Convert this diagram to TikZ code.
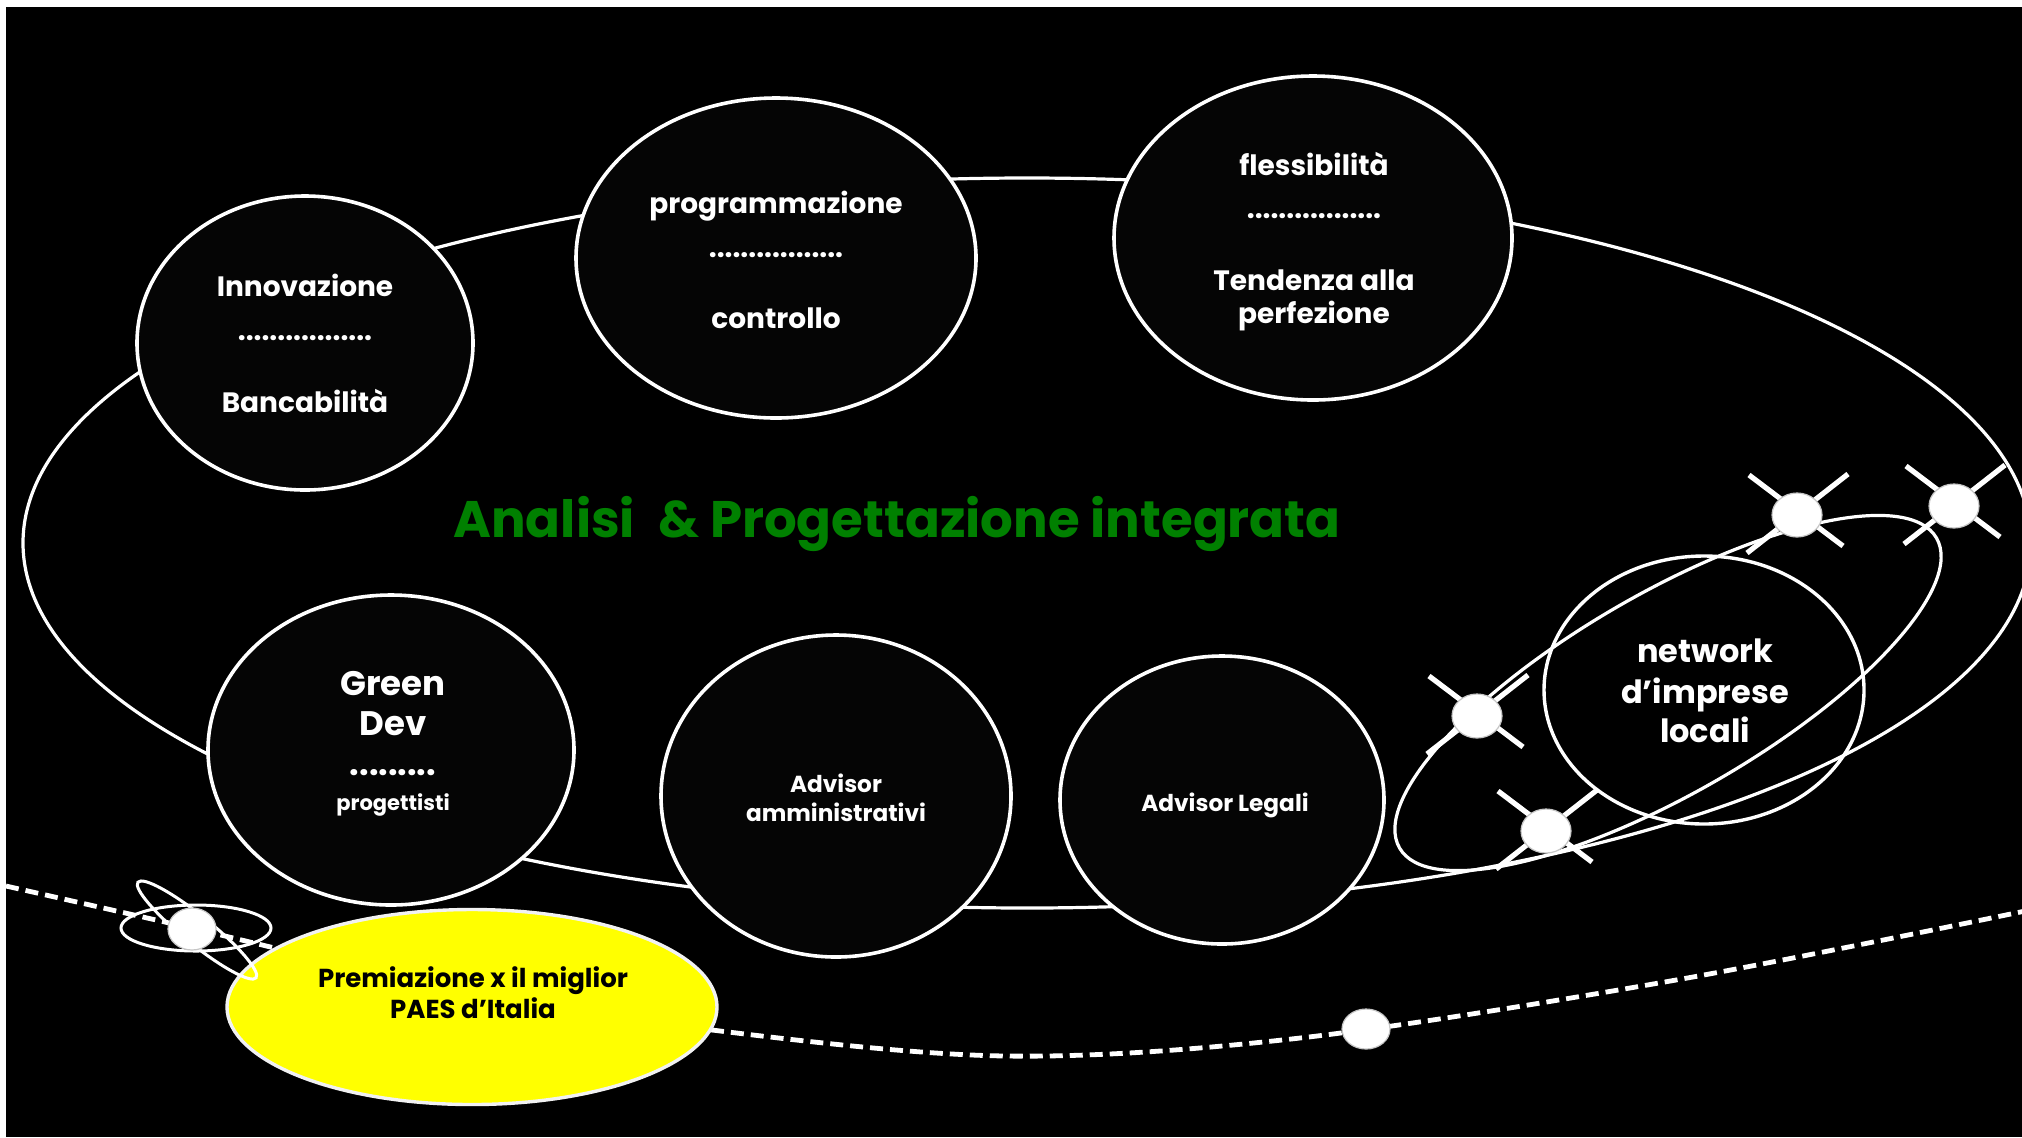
\documentclass[tikz,border=0pt]{standalone}
\usepackage{fontspec}
\setmainfont{Poppins}
\usetikzlibrary{shapes.geometric}
\definecolor{ygold}{HTML}{FFFF00}
\definecolor{tgreen}{HTML}{008000}
\definecolor{bubfill}{HTML}{050505}
\begin{document}
\begin{tikzpicture}[x=0.5pt,y=-0.5pt,
  orbit/.style={draw=white, line width=1.6pt},
  dashorbit/.style={draw=white, line width=2.4pt, dash pattern=on 6.5pt off 3.5pt},
  bubble/.style={ellipse, draw=white, line width=1.8pt, fill=bubfill, inner sep=0pt},
  ring/.style={ellipse, draw=white, line width=1.7pt, inner sep=0pt},
  sat/.style={ellipse, fill=white, draw=gray!45, line width=0.6pt, minimum width=25pt, minimum height=22pt, inner sep=0pt},
  crossarm/.style={draw=white, line width=2.6pt},
  wl/.style={text=white, anchor=base, inner sep=0pt, font=\bfseries\fontsize{14}{16}\selectfont},
  wbig/.style={wl, font=\bfseries\fontsize{17}{19}\selectfont},
  wsmall/.style={wl, font=\bfseries\fontsize{10.5}{12}\selectfont},
  wadv/.style={wl, font=\bfseries\fontsize{11.6}{14}\selectfont},
  wnet/.style={wl, font=\bfseries\fontsize{16}{18}\selectfont},
  ytxt/.style={text=black, anchor=base, inner sep=0pt, font=\bfseries\fontsize{13}{15}\selectfont},
  title/.style={text=tgreen, anchor=base, inner sep=0pt, font=\bfseries\fontsize{25.7}{30}\selectfont}
]
\useasboundingbox (0,0) rectangle (2022,1137);
\fill[white] (0,0) rectangle (2022,1137);
\fill[black] (6,7) rectangle (2022,1137);
\begin{scope}
\clip (6,7) rectangle (2022,1137);

% big orbit
\coordinate (oc) at (1027,543);
\draw[orbit] (oc) ellipse [x radius=1004, y radius=365];

% dashed orbit
\coordinate (d1) at (6,886);
\coordinate (d2) at (191,928);
\coordinate (d3) at (450,988);
\coordinate (d4) at (712,1030);
\coordinate (d5) at (1006,1056);
\coordinate (d6) at (1300,1038);
\coordinate (d7) at (1676,980);
\coordinate (d8) at (2030,910);
\draw[dashorbit] plot[smooth, tension=0.55] coordinates {(d1) (d2) (d3) (d4) (d5) (d6) (d7) (d8)};

% bubbles
\node[bubble, minimum width=168pt, minimum height=147pt] (inn) at (305,343) {};
\node[bubble, minimum width=200pt, minimum height=160pt] (prog) at (776,258) {};
\node[bubble, minimum width=199pt, minimum height=162pt] (fles) at (1313,238) {};
\node[bubble, minimum width=183pt, minimum height=155pt] (green) at (391,750) {};
\node[bubble, minimum width=175pt, minimum height=161pt] (advam) at (836,796) {};
\node[bubble, minimum width=162pt, minimum height=144pt] (advleg) at (1222,800) {};

% texts in bubbles
\node[wl] (inn1) at (305,296) {Innovazione};
\node[wl] (inn2) at (305,340) {.................};
\node[wl] (inn3) at (305,412) {Bancabilità};
\node[wl] (prog1) at (776,213) {programmazione};
\node[wl] (prog2) at (776,257) {.................};
\node[wl] (prog3) at (776,328) {controllo};
\node[wl] (fles1) at (1314,175) {flessibilità};
\node[wl] (fles2) at (1314,218) {.................};
\node[wl] (fles3) at (1314,290) {Tendenza alla};
\node[wl] (fles4) at (1314,323) {perfezione};
\node[wbig] (gr1) at (393,695) {Green};
\node[wbig] (gr2) at (393,735) {Dev};
\node[wbig] (gr3) at (393,775) {.........};
\node[wsmall] (gr4) at (393,810) {progettisti};
\node[wadv] (am1) at (836,792) {Advisor};
\node[wadv] (am2) at (836,821) {amministrativi};
\node[wadv] (lg1) at (1225,811) {Advisor Legali};

% network system
\node[ring, minimum width=160pt, minimum height=134pt] (net) at (1704,690) {};
\coordinate (tc) at (1668,693);
\draw[orbit, rotate around={30:(tc)}] (tc) ellipse [x radius=310, y radius=100];
\node[wnet] (net1) at (1705,662) {network};
\node[wnet] (net2) at (1705,703) {d’imprese};
\node[wnet] (net3) at (1705,742) {locali};

\coordinate (s1) at (1797,515);
\coordinate (s2) at (1954,506);
\coordinate (s3) at (1477,716);
\coordinate (s4) at (1546,831);
\foreach \s in {s1,s2,s3,s4}{
  \draw[crossarm] (\s) ++(-48,-40) -- ++(94,71);
  \draw[crossarm] (\s) ++(51,-41) -- ++(-101,79);
}
\node[sat] (sat1) at (s1) {};
\node[sat] (sat2) at (s2) {};
\node[sat] (sat3) at (s3) {};
\node[sat] (sat4) at (s4) {};

% satellite on dashed orbit
\node[sat, minimum width=24pt, minimum height=20pt] (sat5) at (1366,1029) {};

% title
\node[title] (ttl) at (897,537) {Analisi\hspace{0.45em}\& Progettazione integrata};

% left atom, horizontal ring
\coordinate (ac) at (196,928);
\draw[orbit, line width=1.5pt] (ac) ellipse [x radius=75, y radius=23];

% yellow prize
\node[ellipse, fill=ygold, draw=white!90!gray, line width=1.7pt, minimum width=245pt, minimum height=97.5pt, inner sep=0pt] (prize) at (472,1007) {};
\node[ytxt] (pz1) at (473,987) {Premiazione x il miglior};
\node[ytxt] (pz2) at (473,1018) {PAES d’Italia};

% left atom, tilted ring and core
\coordinate (ac2) at (197,930);
\draw[orbit, line width=1.5pt, rotate around={-39:(ac2)}] (ac2) ellipse [x radius=76, y radius=14];
\node[sat, minimum width=24pt, minimum height=21pt] (sat6) at (192,929) {};
\end{scope}
\end{tikzpicture}
\end{document}
